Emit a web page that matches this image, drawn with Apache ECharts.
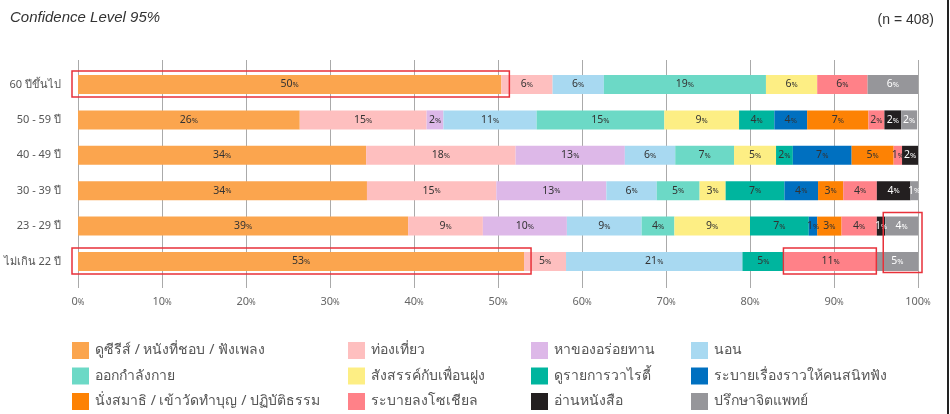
<!DOCTYPE html>
<html>
<head>
<meta charset="utf-8">
<script src="https://cdn.jsdelivr.net/npm/echarts@6/dist/echarts.min.js"></script>
<style>html,body{margin:0;padding:0;background:#fff;}#c{width:950px;height:414px;}</style>
</head>
<body>
<div id="c"></div>
<script>
// Categories (top to bottom)
const categories = ['60 ปีขึ้นไป', '50 - 59 ปี', '40 - 49 ปี', '30 - 39 ปี', '23 - 29 ปี', 'ไม่เกิน 22 ปี'];
const seriesNames = [
  'ดูซีรีส์ / หนังที่ชอบ / ฟังเพลง', 'ท่องเที่ยว', 'หาของอร่อยทาน', 'นอน',
  'ออกกำลังกาย', 'สังสรรค์กับเพื่อนฝูง', 'ดูรายการวาไรตี้', 'ระบายเรื่องราวให้คนสนิทฟัง',
  'นั่งสมาธิ / เข้าวัดทำบุญ / ปฏิบัติธรรม', 'ระบายลงโซเชียล', 'อ่านหนังสือ', 'ปรึกษาจิตแพทย์'
];
const seriesColors = ['#FBA54E', '#FEBFBF', '#DDB8E8', '#A8D9F1', '#6CD9C6', '#FDEE84',
  '#00B59E', '#0070C0', '#FD8204', '#FF8188', '#231F20', '#96969A'];
const labelColors = ['#333', '#333', '#333', '#333', '#333', '#333', '#333', '#333', '#333', '#333', '#fff', '#fff'];
// values per series, in category order
const vSeries   = [50.4, 26.4, 34.3, 34.4, 39.3, 53.1];
const vTravel   = [6.1, 15.1, 17.8, 15.4, 8.9, 5.0];
const vFood     = [0, 2.0, 13.0, 13.1, 10.0, 0];
const vSleep    = [6.1, 11.1, 6.0, 6.0, 8.9, 21.0];
const vExercise = [19.3, 15.2, 7.0, 5.1, 3.9, 0];
const vFriends  = [6.1, 8.9, 5.0, 3.1, 9.0, 0];
const vVariety  = [0, 4.2, 2.0, 7.0, 7.0, 5.0];
const vConfide  = [0, 3.9, 7.0, 4.0, 1.0, 0];
const vMeditate = [0, 7.3, 5.0, 3.0, 2.9, 0];
const vSocial   = [6.0, 1.9, 1.0, 4.0, 4.2, 11.0];
const vRead     = [0, 2.0, 1.9, 4.0, 1.0, 0];
const vPsych    = [6.0, 1.9, 0, 0.9, 3.9, 4.9];
const allValues = [vSeries, vTravel, vFood, vSleep, vExercise, vFriends, vVariety, vConfide, vMeditate, vSocial, vRead, vPsych];
const xTicks = [0, 10, 20, 30, 40, 50, 60, 70, 80, 90, 100];
// highlight boxes: [category, from, to]
const highlights = [
  ['60 ปีขึ้นไป', 0, 50.4],
  ['ไม่เกิน 22 ปี', 0, 53.1],
  ['ไม่เกิน 22 ปี', 84.1, 95.1],
  ['23 - 29 ปี', 96.1, 100],
  ['ไม่เกิน 22 ปี', 96.1, 100]
];

const chart = echarts.init(document.getElementById('c'), null, {renderer: 'canvas'});
const FONT = "'Noto Sans', 'Liberation Sans', sans-serif";

const series = seriesNames.map((name, i) => ({
  name: name,
  type: 'bar',
  stack: 'total',
  xAxisIndex: 0, yAxisIndex: 0,
  barWidth: 19,
  itemStyle: {color: seriesColors[i]},
  label: {
    show: true,
    position: 'inside',
    formatter: p => p.value > 0 ? '{n|' + Math.round(p.value) + '}{p|%}' : '',
    rich: {
      n: {fontSize: 10.5, color: labelColors[i], fontFamily: FONT},
      p: {fontSize: 7.5, color: labelColors[i], fontFamily: FONT, padding: [1, 0, 0, 0]}
    }
  },
  emphasis: {disabled: true},
  data: allValues[i]
}));

const legendCols = [72, 348, 531, 691];
const legends = legendCols.map((x, c) => ({
  orient: 'vertical',
  left: x,
  top: 342,
  height: 90,
  padding: 0,
  itemWidth: 17,
  itemHeight: 17,
  itemGap: 8.5,
  icon: 'rect',
  selectedMode: false,
  textStyle: {fontSize: 14, color: '#555', fontFamily: FONT, padding: [0, 0, 0, 1]},
  data: [seriesNames[c], seriesNames[c + 4], seriesNames[c + 8]]
}));

chart.setOption({
  animation: false,
  backgroundColor: '#fff',
  title: [
    {text: 'Confidence Level 95%', left: 5, top: 5,
      textStyle: {fontSize: 15, fontStyle: 'italic', fontWeight: 'normal', color: '#333', fontFamily: "'Liberation Sans', sans-serif"}},
    {text: '(n = 408)', right: 11, top: 8,
      textStyle: {fontSize: 14, fontWeight: 'normal', color: '#333', fontFamily: "'Liberation Sans', sans-serif"}}
  ],
  legend: legends,
  grid: [
    {left: 78, right: 32, top: 66.8, height: 212.4, outerBoundsMode: 'none', containLabel: false},
    {left: 78, right: 32, top: 60, height: 228, outerBoundsMode: 'none', containLabel: false}
  ],
  xAxis: [
    {type: 'value', gridIndex: 0, min: 0, max: 100, show: false},
    {type: 'value', gridIndex: 1, min: 0, max: 100, interval: 10,
      axisLine: {show: false}, axisTick: {show: false},
      splitLine: {show: true, lineStyle: {color: '#aaa', width: 1}},
      axisLabel: {margin: 8, formatter: v => '{n|' + v + '}{p|%}',
        rich: {n: {fontSize: 11, color: '#666', fontFamily: FONT}, p: {fontSize: 8, color: '#666', fontFamily: FONT, padding: [2, 0, 0, 0]}}}
    }
  ],
  yAxis: [
    {type: 'category', gridIndex: 0, data: categories, inverse: true,
      axisLine: {show: false}, axisTick: {show: false}, splitLine: {show: false},
      axisLabel: {fontSize: 11, color: '#555', margin: 17, fontFamily: FONT}},
    {type: 'category', gridIndex: 1, data: categories, inverse: true, show: false}
  ],
  series: series
});

// annotation boxes derived from data coordinates
const boxes = highlights.map(h => {
  const a = chart.convertToPixel({xAxisIndex: 0, yAxisIndex: 0}, [h[1], h[0]]);
  const b = chart.convertToPixel({xAxisIndex: 0, yAxisIndex: 0}, [h[2], h[0]]);
  return {a, b};
});
const g = [];
function rectFor(x1, x2, yc1, yc2) {
  return {type: 'rect', z: 100, silent: true,
    shape: {x: x1, y: yc1 - 13.5, width: x2 - x1, height: (yc2 - yc1) + 26},
    style: {fill: 'none', stroke: '#E8313A', lineWidth: 1.5}};
}
g.push(rectFor(boxes[0].a[0] - 6, boxes[0].b[0] + 8, boxes[0].a[1], boxes[0].a[1]));
g.push(rectFor(boxes[1].a[0] - 6, boxes[1].b[0] + 7, boxes[1].a[1], boxes[1].a[1]));
g.push(rectFor(boxes[2].a[0] - 1, boxes[2].b[0] - 0.5, boxes[2].a[1], boxes[2].a[1]));
g.push({type: 'rect', z: 100, silent: true,
  shape: {x: boxes[3].a[0] - 2, y: boxes[3].a[1] - 13.5, width: boxes[3].b[0] - boxes[3].a[0] + 6, height: boxes[4].a[1] - boxes[3].a[1] + 24.5},
  style: {fill: 'none', stroke: '#E8313A', lineWidth: 1.5}});
g.push({type: 'rect', silent: true, shape: {x: 947, y: 0, width: 2, height: 414}, style: {fill: '#222'}});
chart.setOption({graphic: g});
</script>
</body>
</html>
